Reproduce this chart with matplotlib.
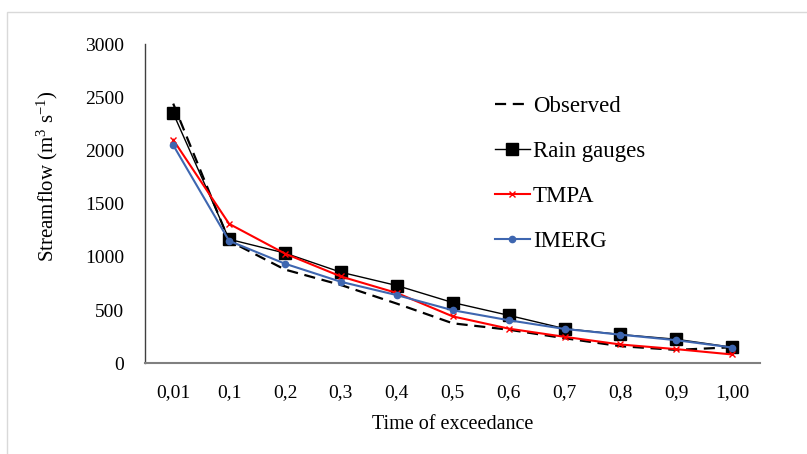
import matplotlib.pyplot as plt
from matplotlib.patches import Rectangle

plt.rcParams['font.family'] = ['Liberation Serif', 'DejaVu Serif']
plt.rcParams['mathtext.fontset'] = 'custom'
plt.rcParams['mathtext.rm'] = 'Liberation Serif'
plt.rcParams['mathtext.it'] = 'Liberation Serif:italic'

exceedance = ['0,01', '0,1', '0,2', '0,3', '0,4', '0,5', '0,6', '0,7', '0,8', '0,9', '1,00']
observed = [2440, 1150, 880, 735, 560, 375, 315, 235, 160, 125, 150]
rain_gauges = [2350, 1165, 1035, 855, 730, 570, 450, 325, 270, 225, 150]
tmpa = [2100, 1310, 1030, 815, 660, 440, 325, 248, 176, 132, 82]
imerg = [2050, 1150, 935, 765, 640, 498, 404, 322, 268, 216, 147]

fig = plt.figure(figsize=(8.07, 4.54), dpi=100)
ax = fig.add_axes([0.180, 0.200, 0.762, 0.703])

x = range(len(exceedance))
ax.plot(x, observed, color='black', linestyle=(0, (5, 3)), linewidth=1.6, label='Observed')
ax.plot(x, rain_gauges, color='black', linewidth=1, marker='s', markersize=8, label='Rain gauges')
ax.plot(x, tmpa, color='#FF0000', linewidth=1.5, marker='x', markersize=4, markeredgewidth=1, label='TMPA')
ax.plot(x, imerg, color='#3E66B0', linewidth=1.5, marker='o', markersize=4.5, label='IMERG')

ax.set_xlim(-0.5, len(exceedance) - 0.5)
ax.set_ylim(0, 3000)
ax.set_yticks(range(0, 3001, 500))
ax.set_xticks(list(x))
ax.set_xticklabels(exceedance)
ax.tick_params(length=0, labelsize=14)
ax.tick_params(axis='y', pad=15)
ax.tick_params(axis='x', pad=15)

for side in ['top', 'right']:
    ax.spines[side].set_visible(False)
ax.spines['left'].set_color('#404040')
ax.spines['left'].set_linewidth(1)
ax.spines['bottom'].set_color('#808080')
ax.spines['bottom'].set_linewidth(1.5)

ax.set_xlabel('Time of exceedance', fontsize=14.5, va='center')
ax.xaxis.set_label_coords(0.5, -0.191)
ax.set_ylabel(r'Streamflow (m$^3$ s$^{-1}$)', fontsize=15, va='center')
ax.yaxis.set_label_coords(-0.159, 0.585)

ax.legend(loc='upper left', bbox_to_anchor=(0.588, 0.834), bbox_transform=fig.transFigure,
          frameon=False, fontsize=16.5, handlelength=1.5, handletextpad=0.15, labelspacing=1.05)

fig.patches.append(Rectangle((7 / 807, -0.1), 1.1, 1 - 12 / 454 + 0.1, transform=fig.transFigure,
                             fill=False, edgecolor='#D9D9D9', linewidth=1))

fig.savefig('out.png', dpi=100)
